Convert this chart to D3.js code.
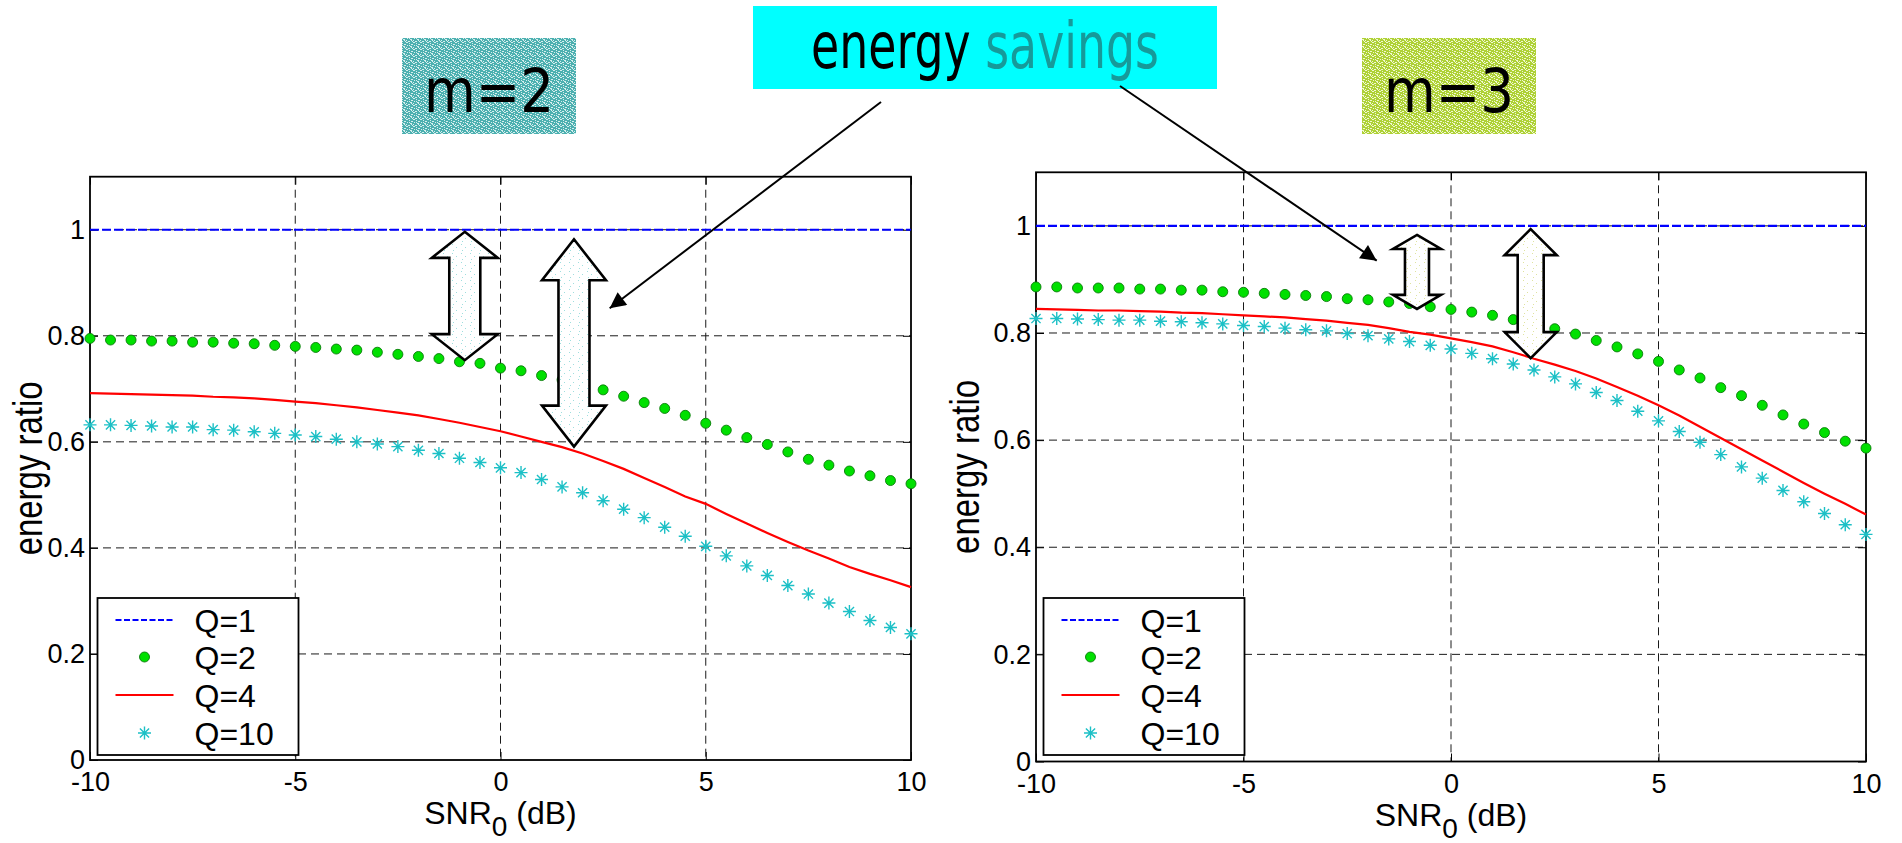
<!DOCTYPE html>
<html>
<head>
<meta charset="utf-8">
<script src="https://cdn.jsdelivr.net/npm/d3@7/dist/d3.min.js"></script>
<style>
  body { margin: 0; background: #fff; }
  svg { display: block; }
</style>
</head>
<body>
<div id="chart"></div>
<script>
// SNR0 in dB, one sample every 0.5 dB
const snr = [-10, -9.5, -9, -8.5, -8, -7.5, -7, -6.5, -6, -5.5, -5, -4.5, -4, -3.5, -3, -2.5, -2, -1.5, -1, -0.5,
  0, 0.5, 1, 1.5, 2, 2.5, 3, 3.5, 4, 4.5, 5, 5.5, 6, 6.5, 7, 7.5, 8, 8.5, 9, 9.5, 10];

const xTicks = [-10, -5, 0, 5, 10];
const xTickLabels = ['-10', '-5', '0', '5', '10'];
const yTicks = [0, 0.2, 0.4, 0.6, 0.8, 1];
const yTickLabels = ['0', '0.2', '0.4', '0.6', '0.8', '1'];
const legendLabels = ['Q=1', 'Q=2', 'Q=4', 'Q=10'];

// m = 2
const m2Q1 = [1, 1, 1, 1, 1, 1, 1, 1, 1, 1, 1, 1, 1, 1, 1, 1, 1, 1, 1, 1, 1, 1, 1, 1, 1, 1, 1, 1, 1, 1, 1, 1, 1, 1, 1, 1, 1, 1, 1, 1, 1];
const m2Q2 = [0.795, 0.792, 0.792, 0.790, 0.790, 0.788, 0.788, 0.786, 0.785, 0.782, 0.780, 0.778, 0.775, 0.773, 0.769, 0.765, 0.761, 0.757, 0.751, 0.748,
  0.739, 0.734, 0.725, 0.717, 0.708, 0.698, 0.686, 0.674, 0.663, 0.650, 0.635, 0.622, 0.608, 0.595, 0.581, 0.567, 0.556, 0.545, 0.536, 0.527, 0.521];
const m2Q4 = [0.692, 0.691, 0.690, 0.689, 0.688, 0.687, 0.685, 0.684, 0.682, 0.679, 0.676, 0.673, 0.669, 0.665, 0.660, 0.655, 0.650, 0.643, 0.636, 0.628,
  0.620, 0.610, 0.600, 0.590, 0.578, 0.564, 0.549, 0.532, 0.515, 0.497, 0.483, 0.464, 0.446, 0.428, 0.411, 0.395, 0.380, 0.364, 0.351, 0.339, 0.326];
const m2Q10 = [0.632, 0.632, 0.631, 0.630, 0.628, 0.628, 0.623, 0.622, 0.619, 0.616, 0.613, 0.610, 0.605, 0.600, 0.596, 0.591, 0.584, 0.578, 0.569, 0.561,
  0.551, 0.542, 0.529, 0.515, 0.504, 0.489, 0.473, 0.457, 0.439, 0.422, 0.403, 0.385, 0.366, 0.348, 0.329, 0.313, 0.296, 0.280, 0.263, 0.250, 0.238];

// m = 3
const m3Q1 = [1, 1, 1, 1, 1, 1, 1, 1, 1, 1, 1, 1, 1, 1, 1, 1, 1, 1, 1, 1, 1, 1, 1, 1, 1, 1, 1, 1, 1, 1, 1, 1, 1, 1, 1, 1, 1, 1, 1, 1, 1];
const m3Q2 = [0.886, 0.886, 0.884, 0.884, 0.884, 0.882, 0.882, 0.880, 0.880, 0.877, 0.876, 0.874, 0.872, 0.870, 0.868, 0.864, 0.862, 0.858, 0.855, 0.849,
  0.844, 0.839, 0.833, 0.825, 0.817, 0.808, 0.798, 0.786, 0.774, 0.761, 0.747, 0.731, 0.716, 0.698, 0.683, 0.665, 0.647, 0.630, 0.614, 0.598, 0.585];
const m3Q4 = [0.845, 0.844, 0.843, 0.842, 0.842, 0.841, 0.840, 0.838, 0.837, 0.835, 0.833, 0.831, 0.829, 0.826, 0.823, 0.819, 0.815, 0.809, 0.802, 0.797,
  0.790, 0.783, 0.775, 0.764, 0.752, 0.741, 0.729, 0.715, 0.699, 0.683, 0.665, 0.646, 0.625, 0.604, 0.583, 0.562, 0.541, 0.520, 0.500, 0.481, 0.461];
const m3Q10 = [0.827, 0.827, 0.826, 0.825, 0.824, 0.824, 0.822, 0.821, 0.819, 0.817, 0.814, 0.812, 0.809, 0.806, 0.804, 0.799, 0.795, 0.789, 0.784, 0.777,
  0.770, 0.762, 0.752, 0.742, 0.731, 0.718, 0.705, 0.689, 0.674, 0.654, 0.636, 0.616, 0.596, 0.573, 0.550, 0.529, 0.506, 0.485, 0.463, 0.442, 0.424];

// double-headed "savings" arrows, in data units: [snr, top value, bottom value]
const m2Savings = [[-0.87, 0.996, 0.754], [1.79, 0.982, 0.591]];
const m3Savings = [[-0.82, 0.983, 0.845], [1.92, 0.994, 0.753]];

const W = 1902, H = 843;
const FONT = '"Liberation Sans", Arial, sans-serif';

const svg = d3.select('#chart').append('svg')
  .attr('width', W)
  .attr('height', H);

const defs = svg.append('defs');

// speckled fills, roughly like the clip-art textures in the slide
function speckle(id, base, spot, size, spots) {
  const p = defs.append('pattern')
    .attr('id', id)
    .attr('patternUnits', 'userSpaceOnUse')
    .attr('width', size).attr('height', size);
  p.append('rect').attr('width', size).attr('height', size).attr('fill', base);
  spots.forEach(s => p.append('rect')
    .attr('x', s[0]).attr('y', s[1]).attr('width', s[2]).attr('height', 1).attr('fill', spot));
}
const grain = [[0, 0, 2], [3, 1, 1], [5, 2, 2], [1, 3, 1], [4, 4, 2], [0, 5, 1], [2, 6, 2], [6, 6, 1], [3, 3, 1], [5, 5, 1]];
speckle('texTeal', '#4cb0b0', '#d6eeee', 7, grain);
speckle('texGreen', '#aed136', '#f1f8d2', 7, grain);
speckle('dotCyan', '#ffffff', '#9fdede', 9, [[2, 1, 1], [6, 4, 1], [3, 7, 1]]);
speckle('dotYellow', '#ffffff', '#dfe3a0', 9, [[2, 1, 1], [6, 4, 1], [3, 7, 1]]);

defs.append('marker')
  .attr('id', 'head')
  .attr('viewBox', '0 0 10 10')
  .attr('refX', 10).attr('refY', 5)
  .attr('markerUnits', 'userSpaceOnUse')
  .attr('markerWidth', 22).attr('markerHeight', 16)
  .attr('orient', 'auto')
  .append('path')
  .attr('d', 'M0,0L10,5L0,10z')
  .attr('fill', '#000');

const starPath = 'M-6.5,0H6.5M0,-6.5V6.5M-4.6,-4.6L4.6,4.6M-4.6,4.6L4.6,-4.6';

const panels = [
  {
    left: 90, right: 911, top: 176.7, bottom: 760,
    q1: m2Q1, q2: m2Q2, q4: m2Q4, q10: m2Q10,
    title: 'm=2', titleFill: 'url(#texTeal)', titleBox: [402, 38, 174, 96],
    savings: m2Savings, savingsFill: 'url(#dotCyan)',
    heads: [[66, 31, 26], [64, 31, 41]],
    yLabelGap: 48
  },
  {
    left: 1036, right: 1866, top: 172.3, bottom: 761.5,
    q1: m3Q1, q2: m3Q2, q4: m3Q4, q10: m3Q10,
    title: 'm=3', titleFill: 'url(#texGreen)', titleBox: [1362, 38, 174, 96],
    savings: m3Savings, savingsFill: 'url(#dotYellow)',
    heads: [[48, 24, 14], [52, 26, 26]],
    yLabelGap: 57
  }
];

function blockArrow(cx, y0, y1, hw, sw, hl) {
  const a = hw / 2, b = sw / 2;
  return `M${cx},${y0}L${cx + a},${y0 + hl}L${cx + b},${y0 + hl}L${cx + b},${y1 - hl}L${cx + a},${y1 - hl}` +
    `L${cx},${y1}L${cx - a},${y1 - hl}L${cx - b},${y1 - hl}L${cx - b},${y0 + hl}L${cx - a},${y0 + hl}Z`;
}

panels.forEach(p => {
  p.x = d3.scaleLinear().domain([-10, 10]).range([p.left, p.right]);
  p.y = d3.scaleLinear().domain([0, 1.1]).range([p.bottom, p.top]);
  const x = p.x, y = p.y;
  const g = svg.append('g');

  // title tag
  const [tx, ty, tw, th] = p.titleBox;
  svg.append('rect').attr('x', tx).attr('y', ty).attr('width', tw).attr('height', th).attr('fill', p.titleFill);
  svg.append('text')
    .attr('x', tx + tw / 2).attr('y', 112)
    .attr('text-anchor', 'middle')
    .attr('font-family', '"DejaVu Sans", Verdana, sans-serif')
    .attr('font-size', 60)
    .attr('textLength', 130).attr('lengthAdjust', 'spacingAndGlyphs')
    .attr('fill', '#000')
    .text(p.title);

  // grid
  g.selectAll('.gx').data(xTicks.slice(1, -1)).join('line')
    .attr('x1', d => x(d)).attr('x2', d => x(d))
    .attr('y1', p.top).attr('y2', p.bottom)
    .attr('stroke', '#1a1a1a').attr('stroke-width', 1).attr('stroke-dasharray', '8,5');
  g.selectAll('.gy').data(yTicks.slice(1)).join('line')
    .attr('x1', p.left).attr('x2', p.right)
    .attr('y1', d => y(d)).attr('y2', d => y(d))
    .attr('stroke', '#1a1a1a').attr('stroke-width', 1).attr('stroke-dasharray', '8,5');

  // axes with inward ticks
  const axB = g.append('g').attr('transform', `translate(0,${p.bottom})`)
    .call(d3.axisBottom(x).tickValues(xTicks).tickSize(-8).tickPadding(12).tickFormat((d, i) => xTickLabels[i]));
  const axL = g.append('g').attr('transform', `translate(${p.left},0)`)
    .call(d3.axisLeft(y).tickValues(yTicks).tickSize(-8).tickPadding(5).tickFormat((d, i) => yTickLabels[i]));
  const axT = g.append('g').attr('transform', `translate(0,${p.top})`)
    .call(d3.axisTop(x).tickValues(xTicks).tickSize(-8).tickFormat(''));
  const axR = g.append('g').attr('transform', `translate(${p.right},0)`)
    .call(d3.axisRight(y).tickValues(yTicks).tickSize(-8).tickFormat(''));
  [axB, axL, axT, axR].forEach(a => {
    a.select('.domain').remove();
    a.selectAll('.tick line').attr('stroke', '#000');
    a.selectAll('text').attr('font-family', FONT).attr('font-size', 27).attr('fill', '#000');
  });

  g.append('rect')
    .attr('x', p.left).attr('y', p.top)
    .attr('width', p.right - p.left).attr('height', p.bottom - p.top)
    .attr('fill', 'none').attr('stroke', '#000').attr('stroke-width', 1.8);

  // axis titles
  const xl = g.append('text')
    .attr('x', (p.left + p.right) / 2).attr('y', p.bottom + 64)
    .attr('text-anchor', 'middle')
    .attr('font-family', FONT).attr('font-size', 32).attr('fill', '#000');
  xl.append('tspan').text('SNR');
  xl.append('tspan').attr('dy', 12).attr('font-size', 28).text('0');
  xl.append('tspan').attr('dy', -12).text(' (dB)');

  g.append('text')
    .attr('transform', `translate(${p.left - p.yLabelGap},${(p.top + p.bottom) / 2}) rotate(-90)`)
    .attr('text-anchor', 'middle')
    .attr('font-family', FONT).attr('font-size', 40).attr('fill', '#000')
    .attr('textLength', 174).attr('lengthAdjust', 'spacingAndGlyphs')
    .text('energy ratio');

  // series
  const line = d3.line().x((d, i) => x(snr[i])).y(d => y(d));
  g.append('path').datum(p.q1).attr('d', line)
    .attr('fill', 'none').attr('stroke', '#0000ff').attr('stroke-width', 2.2).attr('stroke-dasharray', '9,3');
  g.append('path').datum(p.q4).attr('d', line)
    .attr('fill', 'none').attr('stroke', '#ff0000').attr('stroke-width', 2.2);
  g.selectAll('.dot').data(p.q2).join('circle')
    .attr('cx', (d, i) => x(snr[i])).attr('cy', d => y(d)).attr('r', 5)
    .attr('fill', '#00e000').attr('stroke', '#0a7a0a').attr('stroke-width', 0.9);
  g.selectAll('.star').data(p.q10).join('path')
    .attr('transform', (d, i) => `translate(${x(snr[i])},${y(d)})`)
    .attr('d', starPath)
    .attr('fill', 'none').attr('stroke', '#1cc0c6').attr('stroke-width', 1.4);

  // savings arrows
  g.selectAll('.sav').data(p.savings).join('path')
    .attr('d', (d, i) => blockArrow(x(d[0]), y(d[1]), y(d[2]), p.heads[i][0], p.heads[i][1], p.heads[i][2]))
    .attr('fill', p.savingsFill).attr('stroke', '#000').attr('stroke-width', 2.6).attr('stroke-linejoin', 'miter');

  // legend
  const lg = g.append('g').attr('transform', `translate(${p.left + 7.5},598)`);
  lg.append('rect').attr('width', 201).attr('height', 157)
    .attr('fill', '#fff').attr('stroke', '#000').attr('stroke-width', 1.8);
  const rows = [22, 59, 97, 135];
  lg.selectAll('.lt').data(legendLabels).join('text')
    .attr('x', 97).attr('y', (d, i) => rows[i]).attr('dy', '0.37em')
    .attr('font-family', FONT).attr('font-size', 32).attr('fill', '#000')
    .text(d => d);
  lg.append('line').attr('x1', 18).attr('x2', 76).attr('y1', rows[0]).attr('y2', rows[0])
    .attr('stroke', '#0000ff').attr('stroke-width', 2).attr('stroke-dasharray', '6,2.5');
  lg.append('circle').attr('cx', 47).attr('cy', rows[1]).attr('r', 5)
    .attr('fill', '#00e000').attr('stroke', '#0a7a0a').attr('stroke-width', 0.9);
  lg.append('line').attr('x1', 18).attr('x2', 76).attr('y1', rows[2]).attr('y2', rows[2])
    .attr('stroke', '#ff0000').attr('stroke-width', 2.2);
  lg.append('path').attr('transform', `translate(47,${rows[3]})`).attr('d', starPath)
    .attr('fill', 'none').attr('stroke', '#1cc0c6').attr('stroke-width', 1.4);
});

// "energy savings" callout
svg.append('rect').attr('x', 753).attr('y', 6).attr('width', 464).attr('height', 83).attr('fill', '#00ffff');
const cap = svg.append('text')
  .attr('x', 811).attr('y', 68)
  .attr('font-family', '"DejaVu Sans", Verdana, sans-serif')
  .attr('font-size', 64)
  .attr('textLength', 348).attr('lengthAdjust', 'spacingAndGlyphs');
cap.append('tspan').attr('fill', '#000').text('energy ');
cap.append('tspan').attr('fill', '#169a9a').text('savings');

// pointer lines from the callout into each panel
const pointers = [
  { from: [881, 102], panel: panels[0], to: [2.66, 0.852] },
  { from: [1120, 86], panel: panels[1], to: [-1.79, 0.935] }
];
svg.selectAll('.ptr').data(pointers).join('line')
  .attr('x1', d => d.from[0]).attr('y1', d => d.from[1])
  .attr('x2', d => d.panel.x(d.to[0])).attr('y2', d => d.panel.y(d.to[1]))
  .attr('stroke', '#000').attr('stroke-width', 2)
  .attr('marker-end', 'url(#head)');
</script>
</body>
</html>
